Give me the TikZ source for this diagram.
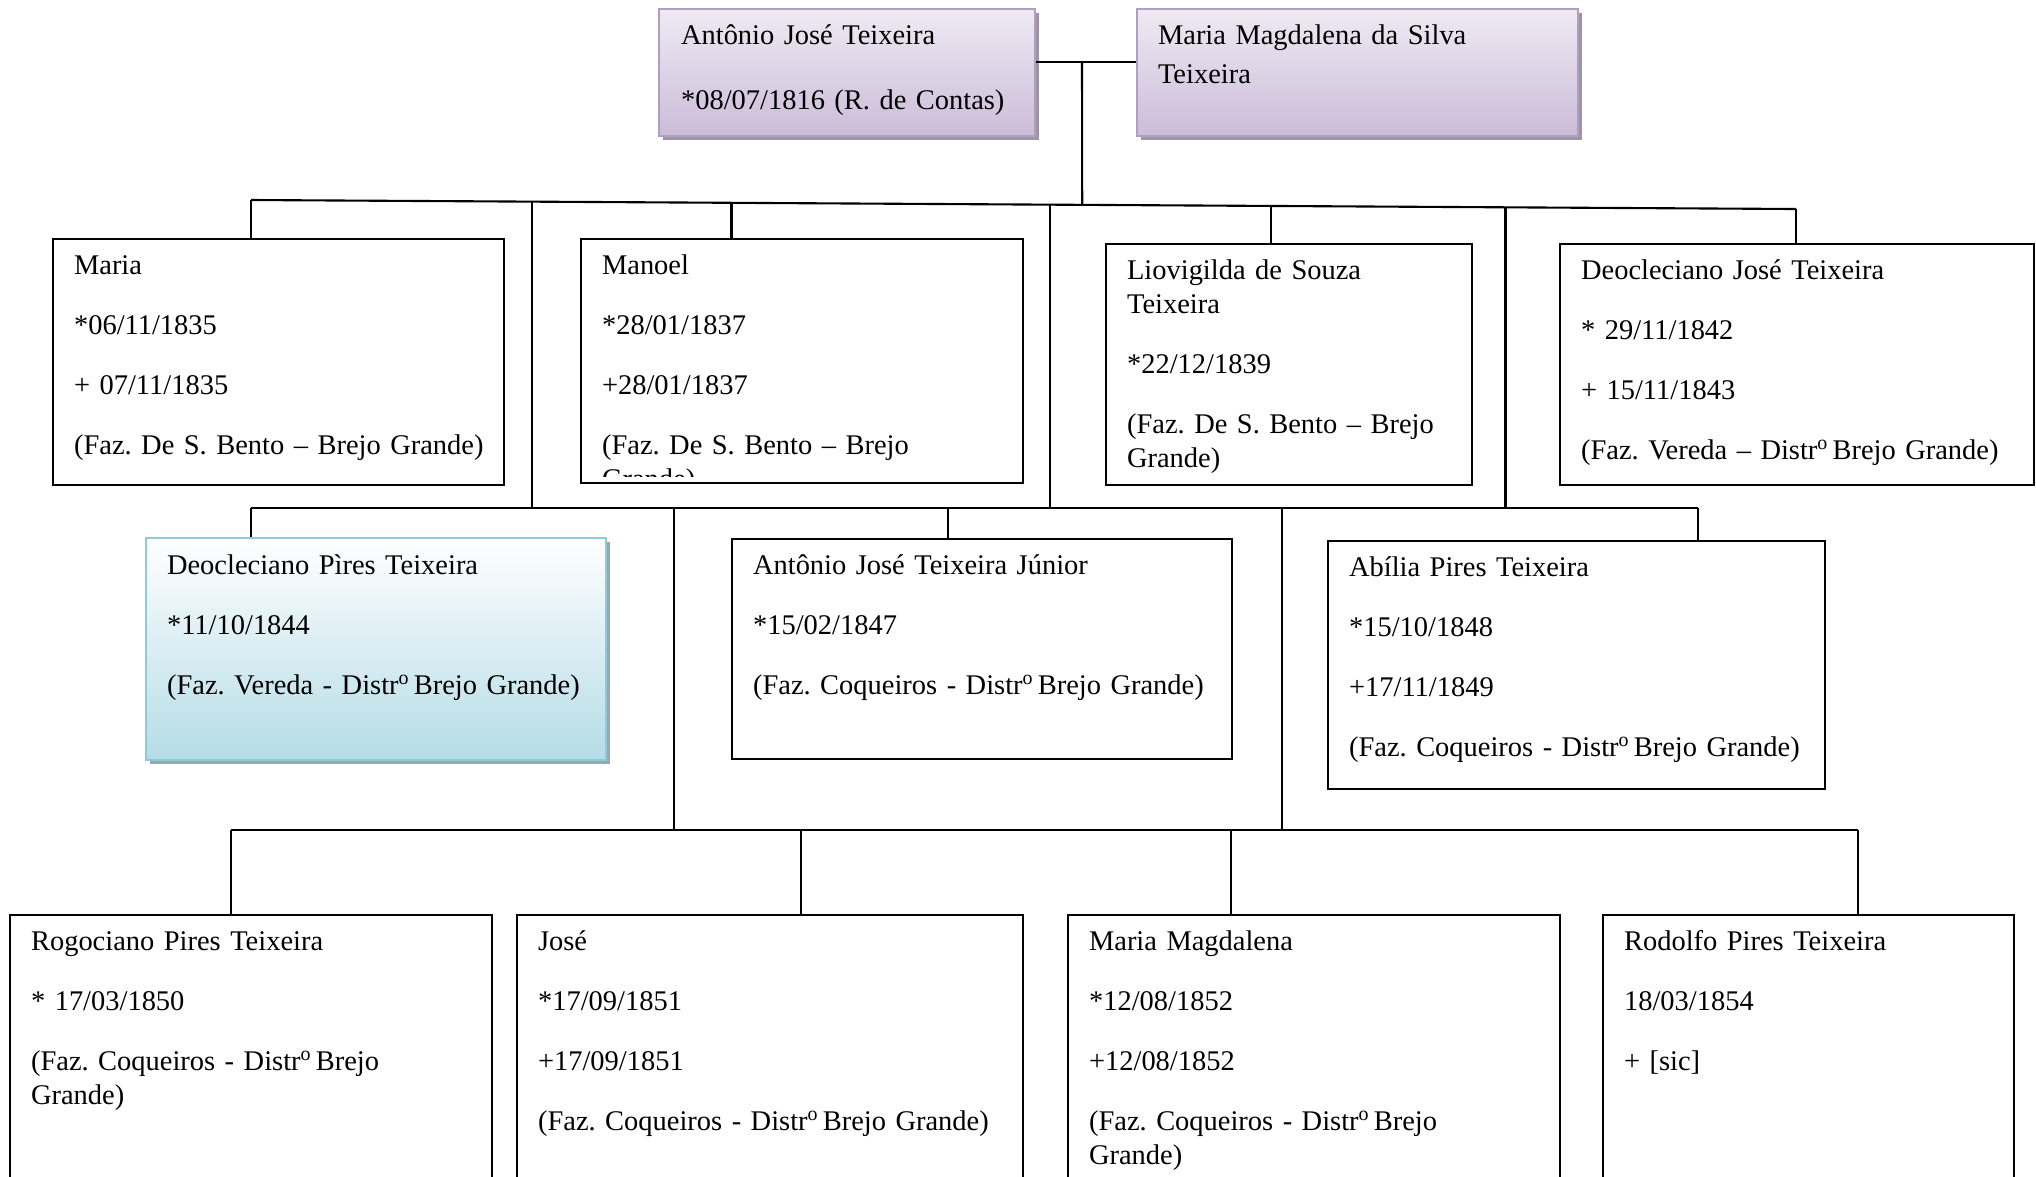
\documentclass[tikz,border=0pt]{standalone}
\usepackage{fontspec}
\setmainfont{Liberation Serif}
\usetikzlibrary{shadows}
\definecolor{lilactop}{HTML}{EFEAF3}
\definecolor{lilacbot}{HTML}{CBBCD8}
\definecolor{lilacline}{HTML}{B09FC5}
\definecolor{lilacshade}{HTML}{9D95A4}
\definecolor{skybot}{HTML}{B5DCE6}
\definecolor{skyline}{HTML}{8FCAD9}
\definecolor{skyshade}{HTML}{93AAB1}
\newcommand{\nextl}{\\[7.4pt]}
\newcommand{\distr}{Distr\textsuperscript{o}\hspace{0.12em}}

\begin{document}
\frenchspacing
\begin{tikzpicture}[x=0.1mm,y=-0.1mm,line width=0.6pt,
	font=\fontsize{8.1}{9.7}\selectfont,
	person/.style 2 args={draw,anchor=north west,inner sep=0pt,minimum width=#1mm,minimum height=#2mm},
	lilac/.style={draw=lilacline,top color=lilactop,bottom color=lilacbot,
		drop shadow={shadow xshift=1.1pt,shadow yshift=-1.1pt,fill=lilacshade,opacity=1}},
	sky/.style={draw=skyline,top color=white,bottom color=skybot,
		drop shadow={shadow xshift=1.1pt,shadow yshift=-1.1pt,fill=skyshade,opacity=1}},
	txt/.style={anchor=base west,inner sep=0pt,text width=50mm,align=left}]
			\useasboundingbox (0,0) rectangle (2036,1176);
			\clip (0,0) rectangle (2036,1176);
			
			\node[person={37.6}{12.7},lilac] (ant) at (658,8) {};
			\node[person={44.1}{12.7},lilac] (mms) at (1136,8) {};
			\node[txt] (antT) at ([shift={(22,36)}]ant.north west) {Antônio José Teixeira\\[8.8pt]*08/07/1816 (R. de Contas)};
			\node[txt] (mmsT) at ([shift={(21,36)}]mms.north west) {Maria Magdalena da Silva\\[1.4pt]Teixeira};
			
			\coordinate (wed) at (1082,62);
			\draw (ant.east |- wed) -- (mms.west |- wed);
			
			\node[person={45.1}{24.6}] (mar) at (52,238) {};
			\node[person={44.2}{24.4}] (man) at (580,238) {};
			\node[person={36.6}{24.1}] (lio) at (1105,243) {};
			\node[person={47.4}{24.1}] (dj) at (1559,243) {};
			
			\node[txt] (marT) at ([shift={(21,36)}]mar.north west) {Maria\nextl *06/11/1835\nextl + 07/11/1835\nextl (Faz. De S. Bento -- Brejo Grande)};
			\begin{scope}
				\clip (man.north west) rectangle ([yshift=2.2pt]man.south east);
				\node[txt] (manT) at ([shift={(21,36)}]man.north west) {Manoel\nextl *28/01/1837\nextl +28/01/1837\nextl (Faz. De S. Bento -- Brejo\\Grande)};
			\end{scope}
			\node[txt] (lioT) at ([shift={(21,36)}]lio.north west) {Liovigilda de Souza\\Teixeira\nextl *22/12/1839\nextl (Faz. De S. Bento -- Brejo\\Grande)};
			\node[txt] (djT) at ([shift={(21,36)}]dj.north west) {Deocleciano José Teixeira\nextl * 29/11/1842\nextl + 15/11/1843\nextl (Faz. Vereda -- \distr Brejo Grande)};
			
			\coordinate (r1a) at (251,200);
			\coordinate (r1b) at (1796,209);
			\draw (r1a) -- (r1b)
				coordinate[pos=0.182] (v1)
				coordinate[pos=0.311] (d2)
				coordinate[pos=0.517] (v2)
				coordinate[pos=0.538] (top)
				coordinate[pos=0.660] (d3)
				coordinate[pos=0.812] (v3);
			\draw (wed) -- (top);
			\draw (r1a) -- (r1a |- mar.north);
			\draw (d2) -- (d2 |- man.north);
			\draw (d3) -- (d3 |- lio.north);
			\draw (r1b) -- (r1b |- dj.north);
			
			\node[person={46.0}{22.2},sky] (dp) at (145,537) {};
			\node[person={50.0}{22.0}] (aj) at (731,538) {};
			\node[person={49.7}{24.8}] (ab) at (1327,540) {};
			
			\node[txt] (dpT) at ([shift={(21,37)}]dp.north west) {Deocleciano Pìres Teixeira\nextl *11/10/1844\nextl (Faz. Vereda - \distr Brejo Grande)};
			\node[txt] (ajT) at ([shift={(21,36)}]aj.north west) {Antônio José Teixeira Júnior\nextl *15/02/1847\nextl (Faz. Coqueiros - \distr Brejo Grande)};
			\node[txt] (abT) at ([shift={(21,36)}]ab.north west) {Abília Pires Teixeira\nextl *15/10/1848\nextl +17/11/1849\nextl (Faz. Coqueiros - \distr Brejo Grande)};
			
			\coordinate (r2a) at (251,508);
			\coordinate (r2b) at (1698,508);
			\coordinate (d5) at (948,508);
			\draw (r2a) -- (r2b);
			\draw (v1) -- (v1 |- r2a);
			\draw (v2) -- (v2 |- r2a);
			\draw (v3) -- (v3 |- r2a);
			\draw (r2a) -- (r2a |- dp.north);
			\draw (d5) -- (d5 |- aj.north);
			\draw (r2b) -- (r2b |- ab.north);
			
			\node[person={48.2}{28.6}] (rog) at (9,914) {};
			\node[person={50.6}{28.6}] (jos) at (516,914) {};
			\node[person={49.2}{28.6}] (mm) at (1067,914) {};
			\node[person={41.1}{28.6}] (rod) at (1602,914) {};
			
			\node[txt] (rogT) at ([shift={(21,36)}]rog.north west) {Rogociano Pires Teixeira\nextl * 17/03/1850\nextl (Faz. Coqueiros - \distr Brejo\\Grande)};
			\node[txt] (josT) at ([shift={(21,36)}]jos.north west) {José\nextl *17/09/1851\nextl +17/09/1851\nextl (Faz. Coqueiros - \distr Brejo Grande)};
			\node[txt] (mmT) at ([shift={(21,36)}]mm.north west) {Maria Magdalena\nextl *12/08/1852\nextl +12/08/1852\nextl (Faz. Coqueiros - \distr Brejo\\Grande)};
			\node[txt] (rodT) at ([shift={(21,36)}]rod.north west) {Rodolfo Pires Teixeira\nextl 18/03/1854\nextl + [sic]};
			
			\coordinate (w1) at (674,508);
			\coordinate (w2) at (1282,508);
			\coordinate (r3a) at (231,830);
			\coordinate (r3b) at (1858,830);
			\coordinate (d7) at (801,830);
			\coordinate (d8) at (1231,830);
			\draw (w1) -- (w1 |- r3a);
			\draw (w2) -- (w2 |- r3a);
			\draw (r3a) -- (r3b);
			\draw (r3a) -- (r3a |- rog.north);
			\draw (d7) -- (d7 |- jos.north);
			\draw (d8) -- (d8 |- mm.north);
			\draw (r3b) -- (r3b |- rod.north);
		\end{tikzpicture}
\end{document}
